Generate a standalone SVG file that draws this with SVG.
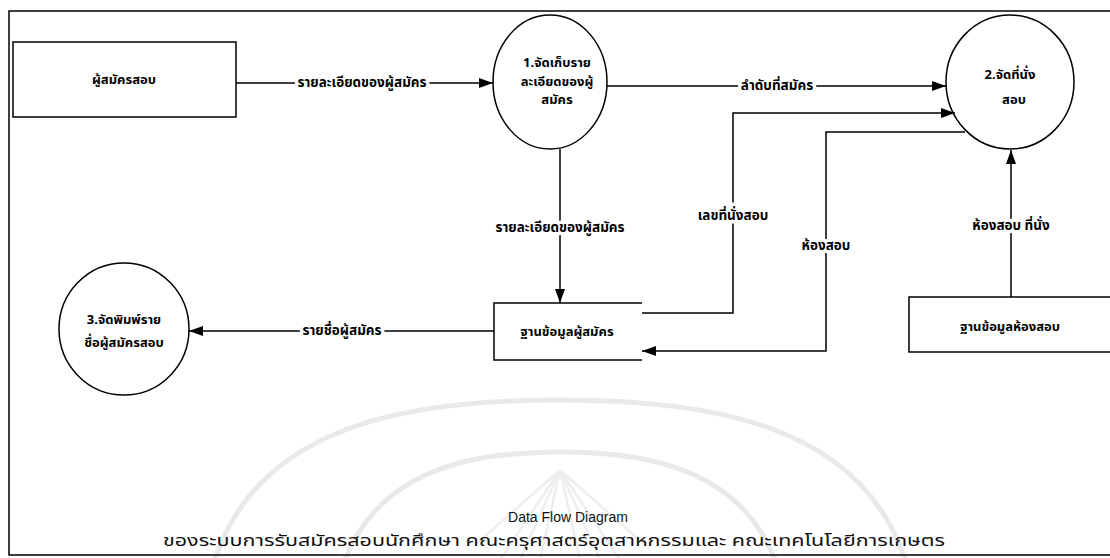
<svg xmlns="http://www.w3.org/2000/svg" width="1110" height="558" viewBox="0 0 1110 558">
  <style>
    .ln { fill: none; stroke: #000; stroke-width: 1.5; }
    .shape { fill: #fff; stroke: #000; stroke-width: 1.5; }
    .th { font-family: 'Noto Sans Thai', 'Noto Sans', 'DejaVu Sans', sans-serif; font-size: 13px; font-weight: bold; fill: #000; text-anchor: middle; }
    .lbl { font-size: 13.5px; paint-order: stroke; stroke: #fff; stroke-width: 7px; stroke-linejoin: round; }
    .cap { font-family: 'Liberation Sans', Arial, sans-serif; font-size: 14px; fill: #111; text-anchor: middle; }
    .capth { font-family: 'Noto Sans Thai', 'Noto Sans', 'DejaVu Sans', sans-serif; font-size: 16px; fill: #111; }
    .wm { fill: none; stroke: #e9e9e9; stroke-width: 5; }
    .wmr { fill: none; stroke: #eeeeee; stroke-width: 2.5; }
  </style>
  <defs>
    <marker id="arrow" viewBox="0 0 14 10" refX="14" refY="5" markerWidth="14" markerHeight="10" markerUnits="userSpaceOnUse" orient="auto">
      <path d="M0,0 L14,5 L0,10 Z" fill="#000"/>
    </marker>
  </defs>

  <rect width="1110" height="558" fill="#fff"/>

  <!-- faint seal printed behind the caption -->
  <g id="watermark">
    <path class="wm" d="M215,560 C260,420 420,400 560,400 C700,400 860,420 905,560"/>
    <path class="wm" d="M345,560 C380,470 470,452 560,452 C650,452 740,470 775,560"/>
    <path class="wmr" d="M560,470 L540,560 M560,470 L520,560 M560,470 L500,560 M560,470 L580,560 M560,470 L600,560 M560,470 L620,560 M560,470 L475,545 M560,470 L645,545"/>
  </g>

  <!-- outer frame -->
  <path class="ln" d="M1112,11 H9 V555 H1112"/>

  <g id="entity-applicant">
    <rect class="shape" x="13" y="42" width="223" height="75"/>
    <text class="th" x="124" y="84">ผู้สมัครสอบ</text>
  </g>

  <g id="process-1">
    <ellipse class="shape" cx="550" cy="82" rx="57" ry="67"/>
    <text class="th" x="557" y="67">1.จัดเก็บราย</text>
    <text class="th" x="557" y="86">ละเอียดของผู้</text>
    <text class="th" x="557" y="104">สมัคร</text>
  </g>

  <g id="process-2">
    <ellipse class="shape" cx="1010" cy="82" rx="64" ry="67"/>
    <text class="th" x="1010" y="79">2.จัดที่นั่ง</text>
    <text class="th" x="1014" y="104">สอบ</text>
  </g>

  <g id="process-3">
    <ellipse class="shape" cx="124" cy="329" rx="65" ry="66"/>
    <text class="th" x="124" y="324">3.จัดพิมพ์ราย</text>
    <text class="th" x="124" y="347">ชื่อผู้สมัครสอบ</text>
  </g>

  <g id="store-applicants">
    <path class="ln" d="M642,303 H494 V360 H642"/>
    <text class="th" x="567" y="336">ฐานข้อมูลผู้สมัคร</text>
  </g>

  <g id="store-rooms">
    <path class="ln" d="M1112,297 H909 V352 H1112"/>
    <text class="th" x="1010" y="331">ฐานข้อมูลห้องสอบ</text>
  </g>

  <g id="connectors">
    <path class="ln" d="M236,83 H493" marker-end="url(#arrow)"/>
    <path class="ln" d="M607,86 H946" marker-end="url(#arrow)"/>
    <path class="ln" d="M560,149 V303" marker-end="url(#arrow)"/>
    <path class="ln" d="M642,313 H733 V113 H955" marker-end="url(#arrow)"/>
    <path class="ln" d="M965,132 H826 V351 H642" marker-end="url(#arrow)"/>
    <path class="ln" d="M1011,297 V150" marker-end="url(#arrow)"/>
    <path class="ln" d="M494,331 H189" marker-end="url(#arrow)"/>

    <text class="th lbl" x="362" y="87">รายละเอียดของผู้สมัคร</text>
    <text class="th lbl" x="777" y="90">ลำดับที่สมัคร</text>
    <text class="th lbl" x="560" y="232">รายละเอียดของผู้สมัคร</text>
    <text class="th lbl" x="733" y="220">เลขที่นั่งสอบ</text>
    <text class="th lbl" x="826" y="250">ห้องสอบ</text>
    <text class="th lbl" x="1011" y="230">ห้องสอบ ที่นั่ง</text>
    <text class="th lbl" x="342" y="335">รายชื่อผู้สมัคร</text>
  </g>

  <g id="caption">
    <text class="cap" x="568" y="522">Data Flow Diagram</text>
    <text class="capth" x="163" y="546" textLength="782" lengthAdjust="spacingAndGlyphs">ของระบบการรับสมัครสอบนักศึกษา คณะครุศาสตร์อุตสาหกรรมและ คณะเทคโนโลยีการเกษตร</text>
  </g>
</svg>
